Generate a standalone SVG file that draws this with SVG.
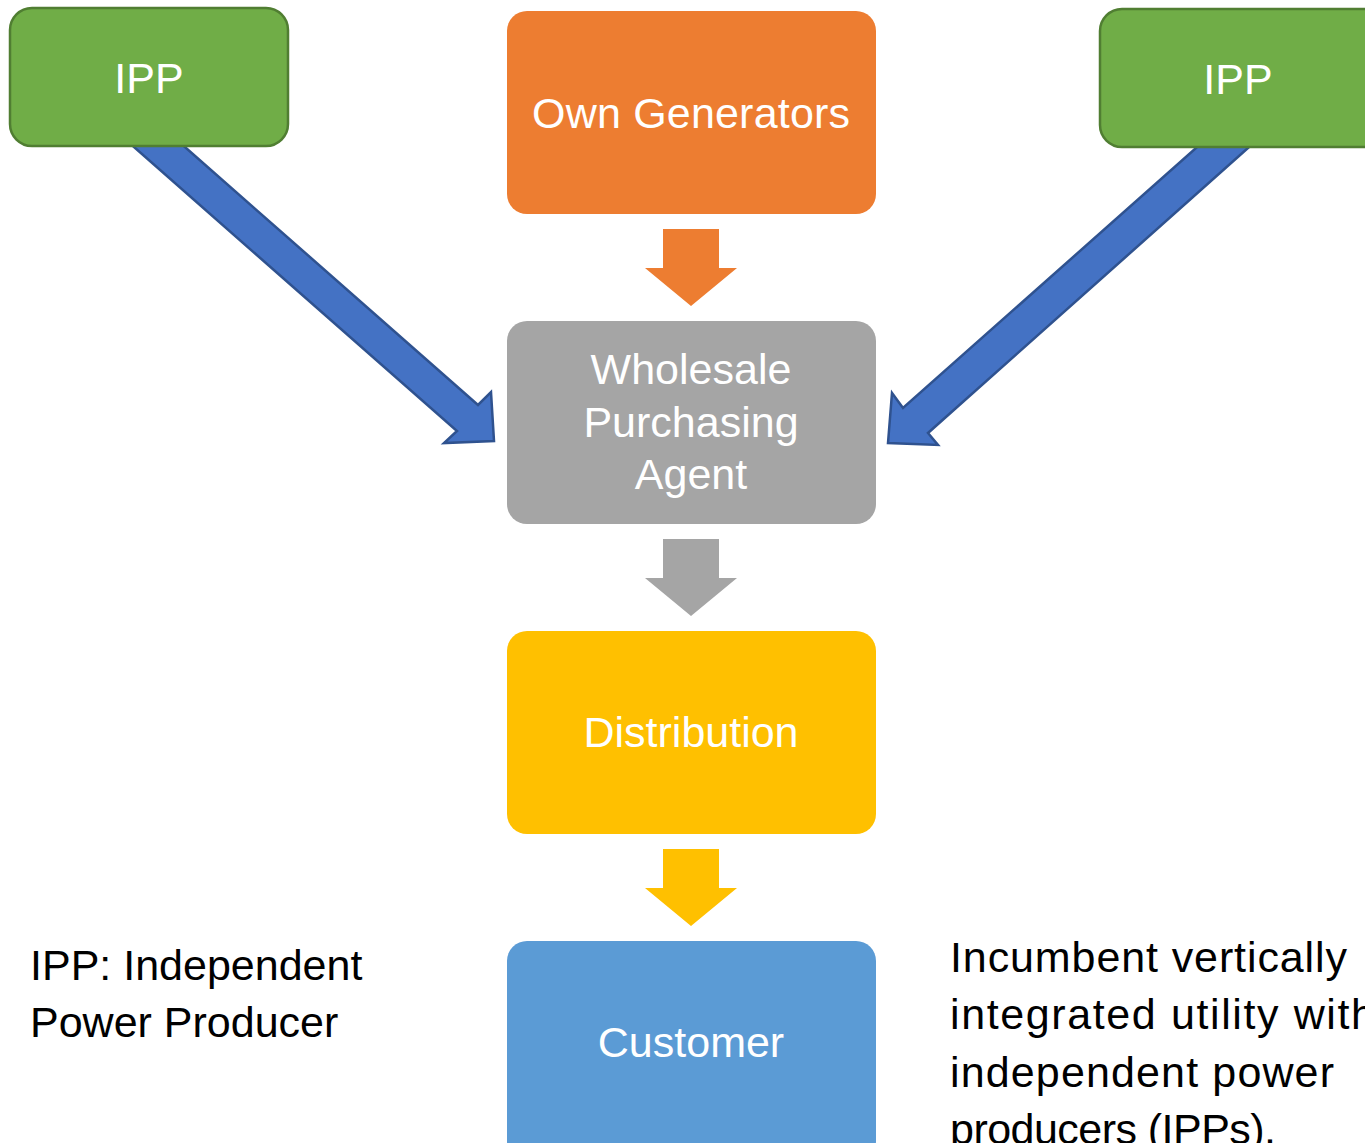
<svg xmlns="http://www.w3.org/2000/svg" width="1365" height="1143" viewBox="0 0 1365 1143">
<style>
.lbl{font-family:"Liberation Sans",Arial,sans-serif;font-size:43px;fill:#ffffff;text-anchor:middle}
.note{font-family:"Liberation Sans",Arial,sans-serif;font-size:43px;fill:#000000}
.ipp{fill:#70AD47;stroke:#507E32;stroke-width:2.5}
.blue{fill:#4472C4;stroke:#2F528F;stroke-width:2.5;stroke-linejoin:miter}
</style>
<rect width="1365" height="1143" fill="#ffffff"/>
<g id="connectors">
<polygon class="blue" points="126,140 177,140 478,405 491,392 494,441 444,443 457,431"/>
<polygon class="blue" points="1257,140 1205,140 903,408 892,393 888,443 938,445 928,433"/>
<polygon fill="#ED7D31" points="663,229 719,229 719,268 737,268 691,306 645,268 663,268"/>
<polygon fill="#A5A5A5" points="663,539 719,539 719,578 737,578 691,616 645,578 663,578"/>
<polygon fill="#FFC000" points="663,849 719,849 719,888 737,888 691,926 645,888 663,888"/>
</g>
<g id="ipp-left">
<rect class="ipp" x="10" y="8" width="278" height="138" rx="22"/>
<text class="lbl" x="149" y="93">IPP</text>
</g>
<g id="ipp-right">
<rect class="ipp" x="1100" y="9" width="290" height="138" rx="22"/>
<text class="lbl" x="1238" y="94">IPP</text>
</g>
<g id="own-generators">
<rect x="507" y="11" width="369" height="203" rx="20" fill="#ED7D31"/>
<text class="lbl" x="691" y="128" textLength="318">Own Generators</text>
</g>
<g id="wholesale">
<rect x="507" y="321" width="369" height="203" rx="20" fill="#A5A5A5"/>
<text class="lbl" x="691" y="384">Wholesale</text>
<text class="lbl" x="691" y="437">Purchasing</text>
<text class="lbl" x="691" y="489">Agent</text>
</g>
<g id="distribution">
<rect x="507" y="631" width="369" height="203" rx="20" fill="#FFC000"/>
<text class="lbl" x="691" y="747">Distribution</text>
</g>
<g id="customer">
<rect x="507" y="941" width="369" height="220" rx="20" fill="#5B9BD5"/>
<text class="lbl" x="691" y="1057">Customer</text>
</g>
<g id="legend">
<text class="note" x="30" y="980">IPP: Independent</text>
<text class="note" x="30" y="1037">Power Producer</text>
</g>
<g id="caption">
<text class="note" x="950" y="972" textLength="397">Incumbent vertically</text>
<text class="note" x="950" y="1029" textLength="425">integrated utility with</text>
<text class="note" x="950" y="1087" textLength="384">independent power</text>
<text class="note" x="950" y="1144" textLength="326">producers (IPPs).</text>
</g>
</svg>
